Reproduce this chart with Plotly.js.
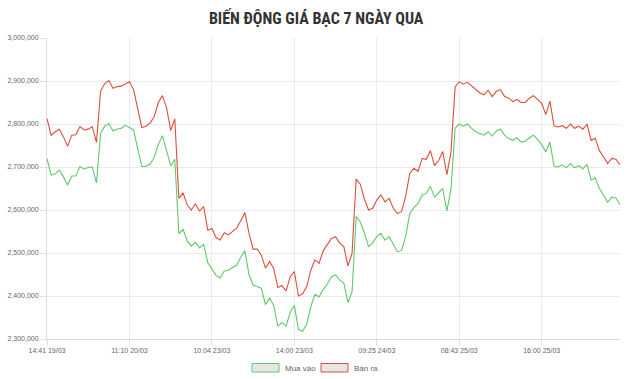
<!DOCTYPE html>
<html>
<head>
<meta charset="utf-8">
<script src="https://cdn.plot.ly/plotly-3.0.1.min.js"></script>
<style>
  html, body { margin: 0; padding: 0; background: #ffffff; }
  #chart { width: 640px; height: 379px; }
</style>
</head>
<body>
<div id="chart"></div>
<script>
// Tick labels (time stamps shown on the x axis) and the point index each sits on
const tickLabels = ['14:41 19/03', '11:10 20/03', '10:04 23/03', '14:00 23/03', '09:25 24/03', '08:43 25/03', '16:00 25/03'];
const tickIndex = [0, 20, 40, 60, 80, 100, 120];

// Series names
const seriesNames = ['Mua vào', 'Bán ra'];

// Buy price (Mua vào), VND
const muaVao = [
  2720000,2681000,2684000,2693000,2677000,2658000,2679000,2679000,2701000,2695000,
  2699000,2700000,2663000,2778000,2795000,2801000,2784000,2788000,2790000,2797000,
  2792000,2786000,2743000,2701000,2701000,2707000,2722000,2752000,2773000,2740000,
  2703000,2718000,2545000,2555000,2528000,2516000,2525000,2512000,2520000,2478000,
  2462000,2448000,2442000,2458000,2460000,2467000,2472000,2490000,2505000,2450000,
  2425000,2422000,2418000,2380000,2395000,2378000,2330000,2338000,2330000,2362000,
  2378000,2322000,2318000,2335000,2375000,2404000,2398000,2415000,2428000,2445000,
  2449000,2437000,2430000,2385000,2410000,2585000,2572000,2546000,2515000,2523000,
  2538000,2546000,2530000,2538000,2519000,2503000,2506000,2538000,2592000,2606000,
  2615000,2635000,2638000,2655000,2630000,2640000,2650000,2598000,2648000,2790000,
  2800000,2795000,2800000,2790000,2782000,2778000,2774000,2782000,2772000,2784000,
  2788000,2774000,2766000,2762000,2768000,2758000,2760000,2768000,2774000,2764000,
  2752000,2735000,2758000,2702000,2700000,2705000,2698000,2708000,2698000,2703000,
  2696000,2706000,2670000,2675000,2650000,2635000,2618000,2630000,2628000,2613000
];

// Sell price (Bán ra), VND
const banRa = [
  2813000,2774000,2782000,2788000,2770000,2748000,2774000,2775000,2794000,2786000,
  2788000,2794000,2757000,2876000,2894000,2901000,2883000,2887000,2888000,2893000,
  2898000,2880000,2838000,2792000,2795000,2802000,2817000,2850000,2866000,2838000,
  2785000,2812000,2627000,2640000,2612000,2600000,2614000,2598000,2608000,2553000,
  2557000,2536000,2530000,2547000,2542000,2551000,2558000,2575000,2594000,2546000,
  2509000,2509000,2495000,2465000,2480000,2464000,2420000,2424000,2412000,2445000,
  2457000,2400000,2405000,2422000,2460000,2484000,2476000,2505000,2519000,2534000,
  2538000,2523000,2515000,2470000,2499000,2672000,2660000,2625000,2600000,2604000,
  2623000,2635000,2619000,2627000,2604000,2592000,2596000,2631000,2685000,2697000,
  2690000,2720000,2718000,2738000,2703000,2715000,2736000,2682000,2735000,2886000,
  2898000,2893000,2897000,2888000,2879000,2872000,2868000,2878000,2864000,2876000,
  2880000,2864000,2860000,2852000,2857000,2850000,2850000,2860000,2866000,2857000,
  2848000,2822000,2853000,2795000,2793000,2796000,2790000,2800000,2790000,2795000,
  2788000,2800000,2762000,2767000,2738000,2724000,2708000,2720000,2718000,2705000
];

const idx = muaVao.map((_, i) => i);

const GREEN = 'rgb(98, 200, 108)';
const RED = 'rgb(221, 78, 60)';
const TICKFONT = { family: 'Liberation Sans, Arial, Helvetica, sans-serif', size: 7, color: '#666666' };

const traces = [
  { x: idx, y: muaVao, name: seriesNames[0], type: 'scatter', mode: 'lines',
    line: { color: GREEN, width: 1.1 }, hoverinfo: 'skip', showlegend: false },
  { x: idx, y: banRa, name: seriesNames[1], type: 'scatter', mode: 'lines',
    line: { color: RED, width: 1.1 }, hoverinfo: 'skip', showlegend: false }
];

// legend geometry (paper units) for Chart.js-style boxes
const L = 47, R = 620, T = 38, B = 339;
const px2x = p => (p - L) / (R - L);
const px2y = p => (B - p) / (B - T);
const legendItems = [
  { name: seriesNames[0], color: GREEN, box: [252, 279], text: 283 },
  { name: seriesNames[1], color: RED, box: [321, 348], text: 352 }
];
const shapes = legendItems.map(it => ({
  type: 'rect', xref: 'paper', yref: 'paper',
  x0: px2x(it.box[0]), x1: px2x(it.box[1]), y0: px2y(372), y1: px2y(363.5),
  fillcolor: '#e6e6e6', line: { color: it.color, width: 1 }
}));
const annotations = legendItems.map(it => ({
  xref: 'paper', yref: 'paper', x: px2x(it.text), y: px2y(368),
  xanchor: 'left', yanchor: 'middle', showarrow: false, text: it.name,
  font: { family: 'Liberation Sans, Arial, Helvetica, sans-serif', size: 8, color: '#666666' }
}));

const layout = {
  width: 640, height: 379,
  margin: { l: L, r: 640 - R, t: T, b: 379 - B, pad: 0 },
  paper_bgcolor: '#ffffff', plot_bgcolor: '#ffffff',
  title: {
    text: '<b>BIẾN ĐỘNG GIÁ BẠC 7 NGÀY QUA</b>',
    x: 0.494, xanchor: 'center', xref: 'container',
    y: 1 - 18 / 379, yanchor: 'middle', yref: 'container',
    font: { family: 'Liberation Sans Narrow, Roboto Condensed, Arial Narrow, sans-serif', size: 16, color: '#333333' }
  },
  xaxis: {
    type: 'linear', range: [0, idx.length - 1],
    tickmode: 'array', tickvals: tickIndex, ticktext: tickLabels,
    showgrid: true, gridcolor: '#ebebeb', gridwidth: 1,
    zeroline: false, showline: true, linecolor: '#dcdcdc', linewidth: 1,
    ticks: 'outside', ticklen: 5, tickcolor: '#e0e0e0',
    tickfont: TICKFONT, fixedrange: true
  },
  yaxis: {
    range: [2300000, 3000000], dtick: 100000, tick0: 2300000,
    tickformat: ',.0f',
    showgrid: true, gridcolor: '#ebebeb', gridwidth: 1,
    zeroline: false, showline: true, linecolor: '#dcdcdc', linewidth: 1,
    ticks: 'outside', ticklen: 6, tickcolor: '#e0e0e0',
    tickfont: TICKFONT, fixedrange: true
  },
  showlegend: false,
  shapes: shapes,
  annotations: annotations,
  hovermode: false
};

Plotly.newPlot('chart', traces, layout, { displayModeBar: false, staticPlot: true });
</script>
</body>
</html>
